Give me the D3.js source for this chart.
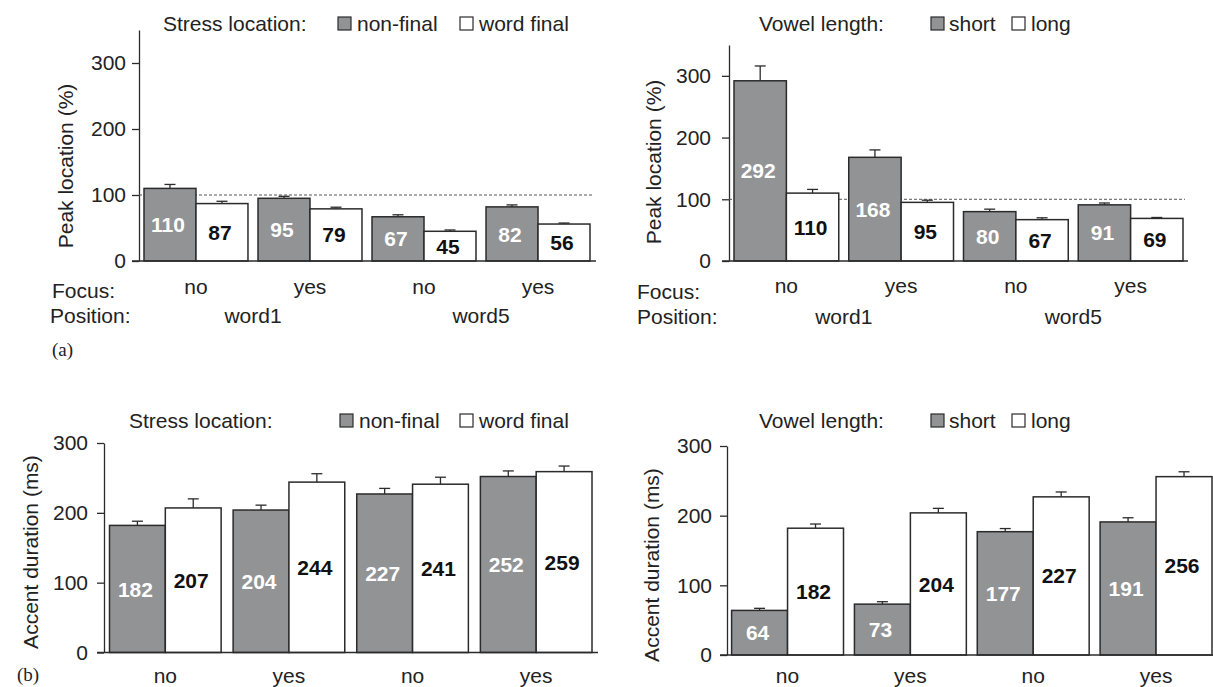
<!DOCTYPE html>
<html>
<head>
<meta charset="utf-8">
<script src="https://cdn.jsdelivr.net/npm/d3@7"></script>
<style>
  html, body { margin: 0; padding: 0; background: #fff; }
  svg { display: block; font-family: "Liberation Sans", Arial, Helvetica, sans-serif; }
</style>
</head>
<body>
<svg id="chart" width="1213" height="687"></svg>
<script>
// ---------- data ----------
const focusLabels = ["no", "yes", "no", "yes"];
const positionLabels = ["word1", "word5"];
const stressSeries = ["non-final", "word final"];
const vowelSeries = ["short", "long"];
const yTicks = [0, 100, 200, 300];

// (a) peak location (%)
const peakStressNonFinal = [110, 95, 67, 82];
const peakStressFinal    = [87, 79, 45, 56];
const peakStressNonFinalErr = [6, 3, 3, 3];
const peakStressFinalErr    = [3.5, 2.5, 2, 1.5];

const peakVowelShort = [292, 168, 80, 91];
const peakVowelLong  = [110, 95, 67, 69];
const peakVowelShortErr = [24, 12, 4, 3];
const peakVowelLongErr  = [6, 3.5, 3, 1.5];

// (b) accent duration (ms)
const durStressNonFinal = [182, 204, 227, 252];
const durStressFinal    = [207, 244, 241, 259];
const durStressNonFinalErr = [6, 7, 8, 8];
const durStressFinalErr    = [13, 12, 10, 8];

const durVowelShort = [64, 73, 177, 191];
const durVowelLong  = [182, 204, 227, 256];
const durVowelShortErr = [3, 3.5, 4.5, 6];
const durVowelLongErr  = [6, 6.5, 7, 7];

// ---------- styles ----------
const DARK = "#929395";
const STROKE = "#2b2b2b";
const TEXT = "#222";
const FS = 21;

const svg = d3.select("#chart");

function drawPanel(cfg) {
  const g = svg.append("g");
  const y = d3.scaleLinear().domain(cfg.yDomain).range([cfg.y0, cfg.yTop]);
  const x = d3.scaleBand().domain(d3.range(focusLabels.length))
    .range(cfg.xRange).paddingInner(cfg.padInner).paddingOuter(0);
  const xi = d3.scaleBand().domain([0, 1]).range([0, x.bandwidth()]).padding(0);

  // y axis
  const yAxis = d3.axisLeft(y).tickValues(yTicks).tickSize(7).tickSizeOuter(0)
    .tickPadding(cfg.tickPad).tickFormat(d3.format("d"));
  const ya = g.append("g").attr("transform", `translate(${cfg.axisX},0)`).call(yAxis);
  ya.selectAll("path, line").attr("stroke", STROKE).attr("stroke-width", 1.3);
  ya.selectAll("text").attr("font-size", FS).attr("fill", TEXT)
    .attr("font-family", "'Liberation Sans', Arial, sans-serif");

  // axis title
  g.append("text")
    .attr("transform", `translate(${cfg.titleX},${cfg.titleY}) rotate(-90)`)
    .attr("text-anchor", "middle").attr("font-size", FS).attr("fill", TEXT)
    .text(cfg.yTitle);

  // reference dashed line
  if (cfg.refLine != null) {
    g.append("line")
      .attr("x1", cfg.axisX).attr("x2", cfg.xRange[1] + 2)
      .attr("y1", y(cfg.refLine)).attr("y2", y(cfg.refLine))
      .attr("stroke", "#555").attr("stroke-width", 1).attr("stroke-dasharray", "3,2");
  }

  const series = [cfg.s0, cfg.s1];
  const errs = [cfg.e0, cfg.e1];
  const fills = [DARK, "#fff"];
  const labelColors = ["#fff", "#111"];

  series.forEach((vals, si) => {
    const bars = g.append("g");
    // error bars
    vals.forEach((v, i) => {
      const cx = x(i) + xi(si) + xi.bandwidth() / 2;
      const top = y(v + errs[si][i]);
      bars.append("line").attr("x1", cx).attr("x2", cx)
        .attr("y1", y(v)).attr("y2", top).attr("stroke", STROKE).attr("stroke-width", 1.3);
      bars.append("line").attr("x1", cx - 5.5).attr("x2", cx + 5.5)
        .attr("y1", top).attr("y2", top).attr("stroke", STROKE).attr("stroke-width", 1.3);
    });
    bars.selectAll("rect").data(vals).join("rect")
      .attr("x", (d, i) => x(i) + xi(si))
      .attr("y", d => y(d))
      .attr("width", xi.bandwidth())
      .attr("height", d => y(0) - y(d))
      .attr("fill", fills[si]).attr("stroke", STROKE).attr("stroke-width", 1.5);
    bars.selectAll("text.val").data(vals).join("text").attr("class", "val")
      .attr("x", (d, i) => x(i) + xi(si) + xi.bandwidth() / 2 - 2)
      .attr("y", d => (y(0) + y(d)) / 2)
      .attr("dy", "0.36em")
      .attr("text-anchor", "middle").attr("font-size", 21).attr("font-weight", "bold")
      .attr("fill", labelColors[si])
      .text(d => d);
  });

  // x axis baseline
  g.append("line").attr("x1", cfg.axisX - 7).attr("x2", cfg.xEnd)
    .attr("y1", y(0)).attr("y2", y(0)).attr("stroke", STROKE).attr("stroke-width", 1.5);

  // focus labels
  g.selectAll("text.focus").data(focusLabels).join("text").attr("class", "focus")
    .attr("x", (d, i) => x(i) + x.bandwidth() / 2)
    .attr("y", cfg.focusY).attr("text-anchor", "middle")
    .attr("font-size", FS).attr("fill", TEXT).text(d => d);

  if (cfg.posY != null) {
    g.selectAll("text.pos").data(positionLabels).join("text").attr("class", "pos")
      .attr("x", (d, i) => (x(2 * i) + x(2 * i + 1) + x.bandwidth()) / 2)
      .attr("y", cfg.posY).attr("text-anchor", "middle")
      .attr("font-size", FS).attr("fill", TEXT).text(d => d);
    g.append("text").attr("x", cfg.focusLabelX).attr("y", cfg.focusLabelY)
      .attr("font-size", FS).attr("fill", TEXT).text("Focus:");
    g.append("text").attr("x", cfg.posLabelX).attr("y", cfg.posY)
      .attr("font-size", FS).attr("fill", TEXT).text("Position:");
  }

  // legend
  const L = cfg.legend;
  g.append("text").attr("x", L.titleX).attr("y", L.y).attr("font-size", FS)
    .attr("fill", TEXT).text(L.title);
  L.names.forEach((name, k) => {
    g.append("rect").attr("x", L.sqX[k]).attr("y", L.y - 14).attr("width", 13).attr("height", 13)
      .attr("fill", fills[k]).attr("stroke", STROKE).attr("stroke-width", 1.2);
    g.append("text").attr("x", L.txtX[k]).attr("y", L.y).attr("font-size", FS)
      .attr("fill", TEXT).text(name);
  });
}

// (a) left: stress location
drawPanel({
  yDomain: [0, 350], y0: 261, yTop: 30, axisX: 139, tickPad: 6,
  xRange: [144, 590], padInner: 0.088, xEnd: 596,
  yTitle: "Peak location (%)", titleX: 73, titleY: 166, refLine: 100,
  s0: peakStressNonFinal, s1: peakStressFinal, e0: peakStressNonFinalErr, e1: peakStressFinalErr,
  focusY: 294, posY: 323, focusLabelX: 52, focusLabelY: 298, posLabelX: 50,
  legend: { title: "Stress location:", titleX: 163, y: 31, names: stressSeries,
            sqX: [338, 460], txtX: [357, 479] }
});

// (a) right: vowel length
drawPanel({
  yDomain: [0, 350], y0: 261, yTop: 45, axisX: 729, tickPad: 11,
  xRange: [734, 1183], padInner: 0.087, xEnd: 1188,
  yTitle: "Peak location (%)", titleX: 661, titleY: 162, refLine: 100,
  s0: peakVowelShort, s1: peakVowelLong, e0: peakVowelShortErr, e1: peakVowelLongErr,
  focusY: 293, posY: 324, focusLabelX: 637, focusLabelY: 299, posLabelX: 637,
  legend: { title: "Vowel length:", titleX: 759, y: 31, names: vowelSeries,
            sqX: [931, 1012], txtX: [949, 1031] }
});

// (b) left: stress location
drawPanel({
  yDomain: [0, 300], y0: 652.5, yTop: 443, axisX: 104, tickPad: 9,
  xRange: [109.5, 592], padInner: 0.097, xEnd: 598,
  yTitle: "Accent duration (ms)", titleX: 38, titleY: 552, refLine: null,
  s0: durStressNonFinal, s1: durStressFinal, e0: durStressNonFinalErr, e1: durStressFinalErr,
  focusY: 683, posY: null,
  legend: { title: "Stress location:", titleX: 129, y: 428, names: stressSeries,
            sqX: [340, 460], txtX: [359, 479] }
});

// (b) right: vowel length
drawPanel({
  yDomain: [0, 300], y0: 655, yTop: 446, axisX: 727, tickPad: 8,
  xRange: [731.6, 1212], padInner: 0.089, xEnd: 1213,
  yTitle: "Accent duration (ms)", titleX: 659, titleY: 565, refLine: null,
  s0: durVowelShort, s1: durVowelLong, e0: durVowelShortErr, e1: durVowelLongErr,
  focusY: 683, posY: null,
  legend: { title: "Vowel length:", titleX: 759, y: 428, names: vowelSeries,
            sqX: [931, 1012], txtX: [949, 1031] }
});

// panel tags
svg.append("text").attr("x", 52).attr("y", 356).attr("font-size", 19)
  .attr("font-family", "'Liberation Serif', 'Times New Roman', serif").attr("fill", TEXT).text("(a)");
svg.append("text").attr("x", 17).attr("y", 681).attr("font-size", 19)
  .attr("font-family", "'Liberation Serif', 'Times New Roman', serif").attr("fill", TEXT).text("(b)");
</script>
</body>
</html>
